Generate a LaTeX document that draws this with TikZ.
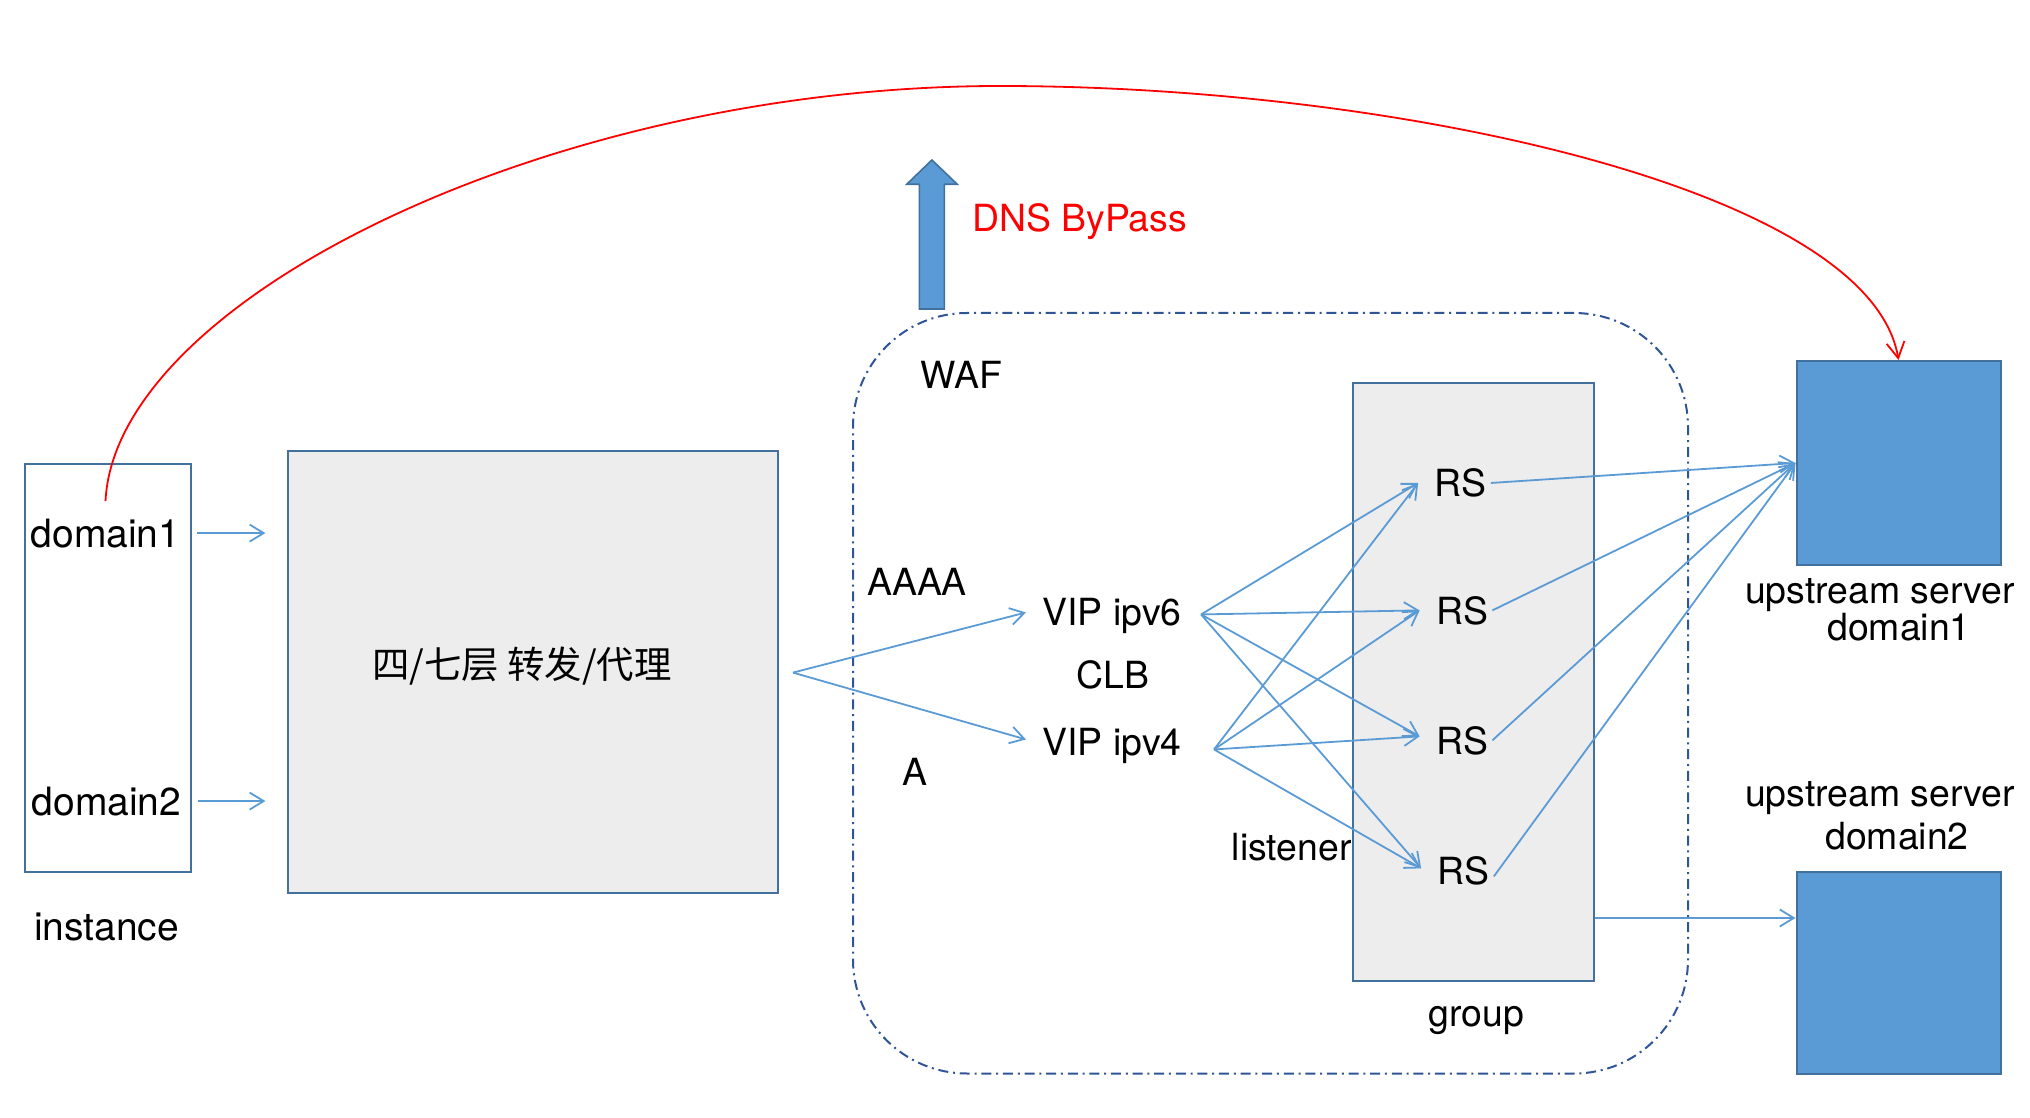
\documentclass[tikz,border=0pt]{standalone}
\usepackage{fontspec}
\setmainfont{TeX Gyre Heros}
\newfontfamily\cjkfont{Noto Sans CJK SC}
\usetikzlibrary{arrows.meta}
\definecolor{lineblue}{HTML}{5B9BD5}
\definecolor{boxblue}{HTML}{41719C}
\definecolor{dashblue}{HTML}{2F5597}
\definecolor{greyfill}{HTML}{EDEDED}
\definecolor{upfill}{HTML}{5B9BD5}
\definecolor{redline}{HTML}{FF0000}
\tikzset{
  txt/.style={font=\fontsize{18.7}{22}\selectfont, inner sep=0pt, anchor=base, text=black},
  bigtxt/.style={txt, font=\fontsize{19.5}{22}\selectfont},
  boxnode/.style={draw=boxblue, line width=1pt, inner sep=0pt},
  arr/.style={draw=lineblue, line width=0.9pt, -{Straight Barb[length=7pt,width=8.5pt]}},
  wafbox/.style={draw=dashblue, line width=1pt, rounded corners=57pt,
    dash pattern=on 5pt off 2.4pt on 1pt off 2.4pt, inner sep=0pt},
}
\begin{document}
\begin{tikzpicture}[x=0.5pt,y=-0.5pt]
\useasboundingbox (0,0) rectangle (2030,1118);

% containers
\node[wafbox, minimum width=417.5pt, minimum height=380.25pt] (waf) at (1270.5,693.25) {};
\node[boxnode, fill=greyfill, minimum width=120.75pt, minimum height=299pt] (group) at (1473.25,682) {};
\node[boxnode, fill=greyfill, minimum width=244.8pt, minimum height=220.8pt] (proxy) at (533.2,671.8) {};
\node[boxnode, minimum width=83.25pt, minimum height=204.2pt] (inst) at (107.75,667.85) {};
\node[boxnode, fill=upfill, minimum width=102pt, minimum height=102pt] (up1) at (1898.5,463) {};
\node[boxnode, fill=upfill, minimum width=102pt, minimum height=100.75pt] (up2) at (1898.5,972.75) {};

% DNS bypass block arrow
\filldraw[fill=upfill, draw=boxblue, line width=0.8pt, line join=miter]
  (919.3,309) -- (919.3,184.3) -- (906.7,184.3) -- (931.9,160) -- (957.3,184.3)
  -- (944.3,184.3) -- (944.3,309) -- cycle;
\node[txt, anchor=base west, text=redline] (dns) at (971.7,231.7) {DNS ByPass};

% texts
\node[bigtxt] (d1) at (105.5,547) {domain1};
\node[bigtxt] (d2) at (106.5,815) {domain2};
\node[bigtxt] (instlbl) at (106.6,940) {instance};
\node[txt, anchor=center, font=\cjkfont\fontsize{18.7}{22}\selectfont] (proxylbl) at (522,666) {四/七层 转发/代理};
\node[txt] (waflbl) at (961.5,388) {WAF};
\node[txt] (aaaa) at (917,595) {AAAA};
\node[txt] (alab) at (915,785) {A};
\node[txt] (vip6) at (1112,625) {VIP ipv6};
\node[txt] (clb) at (1112.8,688) {CLB};
\node[txt] (vip4) at (1112,755) {VIP ipv4};
\node[txt] (listener) at (1291.6,860) {listener};
\node[txt] (grouplbl) at (1476.6,1026) {group};
\node[txt] (rs1) at (1460.5,496.6) {RS};
\node[txt] (rs2) at (1462,624) {RS};
\node[txt] (rs3) at (1462,754) {RS};
\node[txt] (rs4) at (1463.5,884) {RS};
\node[txt] (up1a) at (1880,603) {upstream server};
\node[txt] (up1b) at (1899,640) {domain1};
\node[txt] (up2a) at (1880,806.5) {upstream server};
\node[txt] (up2b) at (1897,849.7) {domain2};

% coordinates
\coordinate (a1e) at ([xshift=-11pt]proxy.west |- d1.east);
\coordinate (a2e) at ([xshift=-11pt]proxy.west |- d2.east);
\coordinate (split) at (793,672.6);
\coordinate (rstart) at ([yshift=8.5pt]d1.north);
\coordinate (gy) at (0,918);
\coordinate (v6o) at ([xshift=9.5pt,yshift=0.5pt]vip6.east);
\coordinate (v4o) at ([xshift=16pt,yshift=-2pt]vip4.east);
\coordinate (r1i) at ([xshift=-8pt]rs1.west);
\coordinate (r2i) at ([xshift=-8pt]rs2.west);
\coordinate (r3i) at ([xshift=-8pt,yshift=2pt]rs3.west);
\coordinate (r4i) at ([xshift=-8pt,yshift=1pt]rs4.west);

% connectors
\draw[arr] ([xshift=8pt]d1.east) -- (a1e);
\draw[arr] ([xshift=8pt]d2.east) -- (a2e);
\draw[arr] (split) -- ([xshift=-8pt,yshift=1.5pt]vip6.west);
\draw[arr] (split) -- ([xshift=-8pt,yshift=3pt]vip4.west);
\foreach \r in {r1i,r2i,r3i,r4i}{
  \draw[arr] (v6o) -- (\r);
  \draw[arr] (v4o) -- (\r);
}
\draw[arr] ([xshift=2pt]rs1.east) -- (up1.west);
\draw[arr] ([xshift=2pt]rs2.east) -- (up1.west);
\draw[arr] ([xshift=2pt]rs3.east) -- (up1.west);
\draw[arr] ([xshift=2pt,yshift=-3pt]rs4.east) -- (up1.west);
\draw[arr] (group.east |- gy) -- (up2.west |- gy);

% DNS bypass red curve
\draw[draw=redline, line width=0.9pt, -{Straight Barb[length=8pt,width=9pt]}]
  (rstart) .. controls (115,300) and (550,86) .. (1000,86)
  .. controls (1400,86) and (1870,190) .. (up1.north);
\end{tikzpicture}
\end{document}
